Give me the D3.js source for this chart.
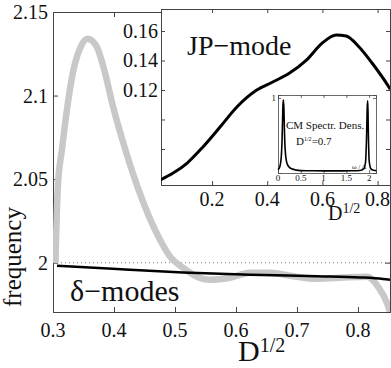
<!DOCTYPE html>
<html>
<head>
<meta charset="utf-8">
<script src="https://cdn.jsdelivr.net/npm/d3@7"></script>
<style>
  html, body { margin: 0; padding: 0; background: #fff; }
  svg { display: block; font-family: "Liberation Serif", Tinos, "Times New Roman", Times, "DejaVu Serif", serif; }
  svg text { font-family: "Liberation Serif", Tinos, "Times New Roman", Times, "DejaVu Serif", serif !important; fill: #111; }
</style>
</head>
<body>
<svg id="chart" width="391" height="368"></svg>
<script>
// ---------------- DATA ----------------
// Main plot: JP-mode frequency (gray) and delta-mode frequency (black) vs D^{1/2}
const jpFreqX = [0.304, 0.308, 0.3148, 0.323, 0.333, 0.344, 0.357, 0.372, 0.385, 0.398, 0.415, 0.438, 0.475, 0.492, 0.513, 0.536, 0.557, 0.590, 0.623, 0.656, 0.689, 0.726, 0.770, 0.815, 0.833, 0.8475, 0.8525];
const jpFreqY = [2.000, 2.0458, 2.068, 2.092, 2.1144, 2.128, 2.134, 2.129, 2.114, 2.094, 2.072, 2.046, 2.014, 2.0036, 1.997, 1.9916, 1.9898, 1.991, 1.994, 1.994, 1.9922, 1.9904, 1.991, 1.9916, 1.9856, 1.976, 1.9705];
const deltaX = [0.3066, 0.405, 0.513, 0.623, 0.733, 0.803, 0.841, 0.8525];
const deltaY = [1.9982, 1.9962, 1.9942, 1.9928, 1.9919, 1.9912, 1.9903, 1.9898];
const mainXTicks = [0.3, 0.4, 0.5, 0.6, 0.7, 0.8];
const mainYTicks = [2, 2.05, 2.1, 2.15];
const mainYTickLabels = ["2", "2.05", "2.1", "2.15"];
const refLevel = 2;

// Inset: JP-mode weight vs D^{1/2}
const insetX = [0.012, 0.059, 0.110, 0.167, 0.229, 0.290, 0.362, 0.420, 0.481, 0.542, 0.600, 0.650, 0.686, 0.733, 0.780, 0.841, 0.846];
const insetY = [0.059, 0.0637, 0.0705, 0.0814, 0.0949, 0.1085, 0.1200, 0.1254, 0.1315, 0.1403, 0.1519, 0.1573, 0.1566, 0.1492, 0.1383, 0.1220, 0.1205];
const insetXTicks = [0.2, 0.4, 0.6, 0.8];
const insetYTicks = [0.08, 0.10, 0.12, 0.14, 0.16];
const insetYTickLabels = ["", "", "0.12", "0.14", "0.16"];

// Small inset: CM spectral density vs omega/Delta at D^{1/2}=0.7
const specW = [0.0, 0.04, 0.07, 0.09, 0.10, 0.11, 0.12, 0.13, 0.14, 0.15, 0.17, 0.20, 0.25, 0.30, 0.40, 0.50, 0.80, 1.20, 1.60, 1.80, 1.88, 1.92, 1.94, 1.96, 1.97, 1.98, 2.00, 2.04, 2.10, 2.15];
const specS = [0.02, 0.06, 0.18, 0.45, 0.70, 0.92, 0.97, 0.85, 0.58, 0.38, 0.20, 0.10, 0.05, 0.03, 0.012, 0.006, 0.003, 0.002, 0.003, 0.008, 0.03, 0.12, 0.40, 0.90, 0.96, 0.60, 0.14, 0.03, 0.01, 0.005];
const specXTicks = [0, 0.5, 1, 1.5, 2];
const specXTickLabels = ["0", "0.5", "1", "1.5", "2"];

// ---------------- DRAW ----------------
const svg = d3.select("#chart");
const frame = "#444";
const FONT = '"Liberation Serif", Tinos, "Times New Roman", Times, "DejaVu Serif", serif';

// main scales
const x = d3.scaleLinear().domain([0.3, 0.8525]).range([53, 390]);
const y = d3.scaleLinear().domain([1.9705, 2.15]).range([312, 12]);

svg.append("clipPath").attr("id", "clipMain")
  .append("rect").attr("x", 53).attr("y", 12).attr("width", 337).attr("height", 300);

const tick = 5;
svg.append("g").attr("class", "ax").attr("transform", "translate(0,312)")
  .call(d3.axisBottom(x).tickValues(mainXTicks).tickSize(-tick).tickFormat(""));
svg.append("g").attr("class", "ax").attr("transform", "translate(0,12)")
  .call(d3.axisTop(x).tickValues(mainXTicks).tickSize(-tick).tickFormat(""));
svg.append("g").attr("class", "ax").attr("transform", "translate(53,0)")
  .call(d3.axisLeft(y).tickValues(mainYTicks).tickSize(-tick).tickFormat(""));
svg.append("g").attr("class", "ax").attr("transform", "translate(390,0)")
  .call(d3.axisRight(y).tickValues(mainYTicks).tickSize(-tick).tickFormat(""));
svg.selectAll(".ax .domain, .ax .tick line").attr("stroke", frame);

// tick labels
svg.append("g").selectAll("text").data(mainXTicks).join("text")
  .attr("x", d => x(d)).attr("y", 337)
  .attr("text-anchor", "middle").attr("font-family", FONT).style("font-size", "20px")
  .text(d => d3.format(".1f")(d));
svg.append("g").selectAll("text").data(mainYTicks).join("text")
  .attr("x", 48).attr("y", d => y(d) + 7)
  .attr("text-anchor", "end").attr("font-family", FONT).style("font-size", "20px")
  .text((d, i) => mainYTickLabels[i]);

// dotted reference line
svg.append("line")
  .attr("x1", x(0.3)).attr("x2", x(0.8525))
  .attr("y1", y(refLevel)).attr("y2", y(refLevel))
  .attr("stroke", "#777").attr("stroke-width", 1).attr("stroke-dasharray", "1,3");

const lineMain = d3.line().x(d => x(d[0])).y(d => y(d[1])).curve(d3.curveMonotoneX);
svg.append("path")
  .datum(jpFreqX.map((v, i) => [v, jpFreqY[i]]))
  .attr("d", lineMain).attr("fill", "none")
  .attr("stroke", "#c8c8c8").attr("stroke-width", 6.5)
  .attr("stroke-linejoin", "round").attr("stroke-linecap", "butt")
  .attr("clip-path", "url(#clipMain)");
svg.append("path")
  .datum(deltaX.map((v, i) => [v, deltaY[i]]))
  .attr("d", lineMain).attr("fill", "none")
  .attr("stroke", "#000").attr("stroke-width", 2.5)
  .attr("clip-path", "url(#clipMain)");

// labels
svg.append("text").attr("x", 70).attr("y", 301).attr("font-family", FONT)
  .style("font-size", "30px").text("δ−modes");
svg.append("text").attr("transform", "translate(21,257) rotate(-90)").attr("font-family", FONT)
  .attr("text-anchor", "middle").style("font-size", "25px").text("frequency");
const xl = svg.append("text").attr("x", 238).attr("y", 361).attr("font-family", FONT).style("font-size", "30px");
xl.append("tspan").text("D");
xl.append("tspan").attr("dy", -9).style("font-size", "20px").text("1/2");

// ---------------- INSET ----------------
const ix = d3.scaleLinear().domain([0.015, 0.845]).range([161, 390]);
const iy = d3.scaleLinear().domain([0.0556, 0.1749]).range([185, 9]);
svg.append("rect").attr("x", 161).attr("y", 9).attr("width", 229).attr("height", 176)
  .attr("fill", "#fff").attr("stroke", "none");
const it = 4;
svg.append("g").attr("class", "inset").attr("transform", "translate(0,185)")
  .call(d3.axisBottom(ix).tickValues(insetXTicks).tickSize(-it).tickFormat(""));
svg.append("g").attr("class", "inset").attr("transform", "translate(0,9)")
  .call(d3.axisTop(ix).tickValues(insetXTicks).tickSize(-it).tickFormat(""));
svg.append("g").attr("class", "inset").attr("transform", "translate(161,0)")
  .call(d3.axisLeft(iy).tickValues(insetYTicks).tickSize(-it).tickFormat(""));
svg.append("g").attr("class", "inset").attr("transform", "translate(390,0)")
  .call(d3.axisRight(iy).tickValues(insetYTicks).tickSize(-it).tickFormat(""));
svg.selectAll(".inset .domain, .inset .tick line").attr("stroke", frame);

svg.append("g").selectAll("text").data(insetXTicks).join("text")
  .attr("x", d => ix(d)).attr("y", 206)
  .attr("text-anchor", "middle").attr("font-family", FONT).style("font-size", "20px")
  .text(d => d3.format(".1f")(d));
svg.append("g").selectAll("text").data(insetYTicks).join("text")
  .attr("x", 158).attr("y", d => iy(d) + 7)
  .attr("text-anchor", "end").attr("font-family", FONT).style("font-size", "20px")
  .text((d, i) => insetYTickLabels[i]);
const ixl = svg.append("text").attr("x", 328).attr("y", 220).attr("font-family", FONT).style("font-size", "20px");
ixl.append("tspan").text("D");
ixl.append("tspan").attr("dy", -7).style("font-size", "14px").text("1/2");

const lineInset = d3.line().x(d => ix(d[0])).y(d => iy(d[1])).curve(d3.curveMonotoneX);
svg.append("clipPath").attr("id", "clipInset")
  .append("rect").attr("x", 161).attr("y", 9).attr("width", 229).attr("height", 176);
svg.append("path")
  .datum(insetX.map((v, i) => [v, insetY[i]]))
  .attr("d", lineInset).attr("fill", "none")
  .attr("stroke", "#000").attr("stroke-width", 3)
  .attr("clip-path", "url(#clipInset)");
svg.append("text").attr("x", 187).attr("y", 55).attr("font-family", FONT)
  .style("font-size", "28px").text("JP−mode");

// ---------------- SMALL INSET ----------------
const sx = d3.scaleLinear().domain([0, 2.15]).range([278, 376]);
const sy = d3.scaleLinear().domain([-0.027, 1.04]).range([173, 95]);
svg.append("rect").attr("x", 278).attr("y", 95).attr("width", 98).attr("height", 78)
  .attr("fill", "#fff").attr("stroke", "none");
svg.append("g").attr("class", "small").attr("transform", "translate(0,173)")
  .call(d3.axisBottom(sx).tickValues(specXTicks).tickSize(-3).tickFormat(""));
svg.append("g").attr("class", "small").attr("transform", "translate(0,95)")
  .call(d3.axisTop(sx).tickValues(specXTicks).tickSize(-3).tickFormat(""));
svg.append("g").attr("class", "small").attr("transform", "translate(278,0)")
  .call(d3.axisLeft(sy).tickValues([1]).tickSize(-3).tickFormat(""));
svg.append("g").attr("class", "small").attr("transform", "translate(376,0)")
  .call(d3.axisRight(sy).tickValues([1]).tickSize(-3).tickFormat(""));
svg.selectAll(".small .domain, .small .tick line").attr("stroke", frame).attr("stroke-width", 0.8);
svg.append("g").selectAll("text").data(specXTicks).join("text")
  .attr("x", d => sx(d)).attr("y", 181)
  .attr("text-anchor", "middle").attr("font-family", FONT).style("font-size", "9px")
  .text((d, i) => specXTickLabels[i]);
svg.append("text").attr("x", 276).attr("y", sy(1) + 3).attr("font-family", FONT)
  .attr("text-anchor", "end").style("font-size", "9px").text("1");

const lineSpec = d3.line().x(d => sx(d[0])).y(d => sy(d[1])).curve(d3.curveMonotoneX);
svg.append("path")
  .datum(specW.map((v, i) => [v, specS[i]]))
  .attr("d", lineSpec).attr("fill", "none")
  .attr("stroke", "#000").attr("stroke-width", 1.6);

svg.append("text").attr("x", 286).attr("y", 129).attr("font-family", FONT).style("font-size", "11px").text("CM Spectr. Dens.");
const dl = svg.append("text").attr("x", 296).attr("y", 145).attr("font-family", FONT).style("font-size", "11px");
dl.append("tspan").text("D");
dl.append("tspan").attr("dy", -4).style("font-size", "6px").text("1/2");
dl.append("tspan").attr("dy", 4).text("=0.7");
svg.append("text").attr("x", 352).attr("y", 169).attr("font-family", FONT).style("font-size", "7px").text("ω / Δ");
</script>
</body>
</html>
